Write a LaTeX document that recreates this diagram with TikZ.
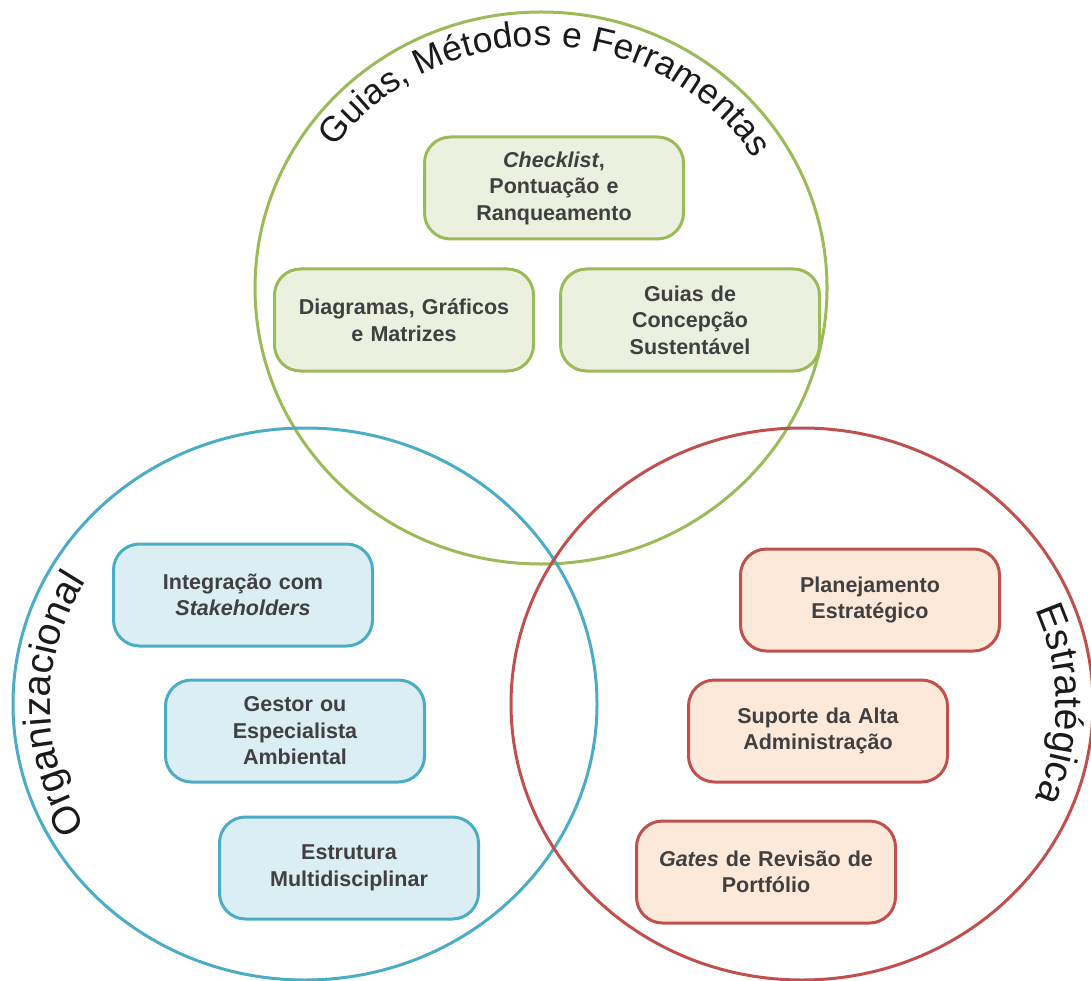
\documentclass[tikz,border=0pt]{standalone}
\usepackage{fontspec}
\setmainfont{Liberation Sans}
\usetikzlibrary{decorations.text}

\definecolor{gline}{HTML}{9BBB59}
\definecolor{gfill}{HTML}{EBF1DE}
\definecolor{bline}{HTML}{4BACC6}
\definecolor{bfill}{HTML}{DAEEF3}
\definecolor{rline}{HTML}{C0504D}
\definecolor{rfill}{HTML}{FDE9D9}
\definecolor{boxtext}{HTML}{404040}
\definecolor{titletext}{HTML}{1A1A1A}

\tikzset{
  ring/.style={line width=3pt},
  item/.style={rounded corners=26pt, line width=3pt,
    minimum width=259pt, minimum height=102pt, text width=250pt,
    align=center, inner sep=0pt, text=boxtext,
    font=\fontsize{21.5}{26.5}\selectfont\bfseries},
  gitem/.style={item, draw=gline, fill=gfill},
  bitem/.style={item, draw=bline, fill=bfill},
  ritem/.style={item, draw=rline, fill=rfill},
}

\begin{document}
\begin{tikzpicture}[x=1pt,y=1pt]
\useasboundingbox (0,0) rectangle (1091,-981);

% centres of the three sets
\coordinate (gc) at (541,-288);
\coordinate (bc) at (305,-704);
\coordinate (rc) at (802,-704);

% the three sets
\draw[ring, draw=gline] (gc) ellipse [x radius=286, y radius=276];
\draw[ring, draw=bline] (bc) ellipse [x radius=292, y radius=276];
\draw[ring, draw=rline] (rc) ellipse [x radius=291, y radius=276];

% set titles, bent along the rims
\path[decorate, decoration={text along path, text align=center,
  text={|\fontsize{35.5}{40}\selectfont\color{titletext}|Guias, Métodos e Ferramentas}}]
  (gc) ++(150:252 and 242) arc [start angle=150, end angle=27, x radius=252, y radius=242];
\path[decorate, decoration={text along path, text align=center,
  text={|\fontsize{39}{44}\selectfont\color{titletext}|Organizacional}}]
  (bc) ++(215:255 and 239) arc [start angle=215, end angle=145, x radius=255, y radius=239];
\path[decorate, decoration={text along path, text align=center,
  text={|\fontsize{39}{44}\selectfont\color{titletext}|Estratégica}}]
  (rc) ++(32:254 and 239) arc [start angle=32, end angle=-32, x radius=254, y radius=239];

% tools
\node[gitem] (chk) at (554,-188) {\textit{Checklist},\\ Pontuação e\\ Ranqueamento};
\node[gitem] (dia) at (404,-320) {Diagramas, Gráficos\\ e Matrizes};
\node[gitem] (gui) at (690,-320) {Guias de\\ Concepção\\ Sustentável};

% organisational factors
\node[bitem] (stk) at (243,-595) {Integração com\\ \textit{Stakeholders}};
\node[bitem] (ges) at (295,-731) {Gestor ou\\ Especialista\\ Ambiental};
\node[bitem] (est) at (349,-868) {Estrutura\\ Multidisciplinar};

% strategic factors
\node[ritem] (pla) at (870,-600) {Planejamento\\ Estratégico};
\node[ritem] (sup) at (818,-731) {Suporte da Alta\\ Administração};
\node[ritem] (gat) at (766,-872) {\textit{Gates} de Revisão de\\ Portfólio};
\end{tikzpicture}
\end{document}
